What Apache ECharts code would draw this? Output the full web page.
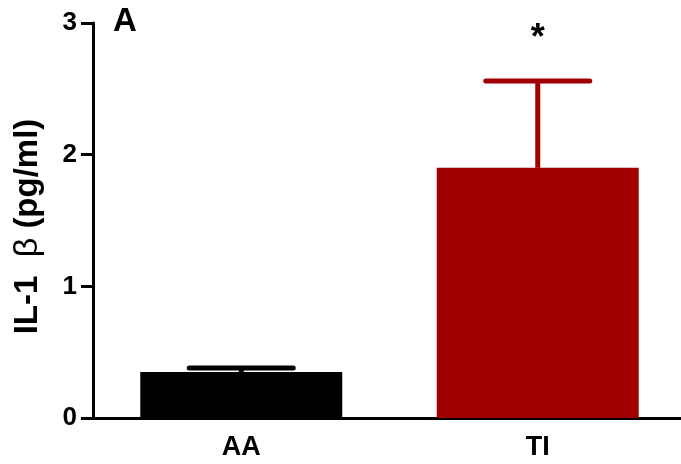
<!DOCTYPE html>
<html>
<head>
<meta charset="utf-8">
<script src="https://cdn.jsdelivr.net/npm/echarts@6/dist/echarts.min.js"></script>
<style>
  html, body { margin: 0; padding: 0; background: #fff; overflow: hidden; }
  #chart { width: 700px; height: 464px; }
</style>
</head>
<body>
<div id="chart"></div>
<script>
// Groups, mean values and upper error (SEM) for IL-1 beta
const categories = ['AA', 'TI'];
const meanValues = [0.35, 1.90];
const errorValues = [0.03, 0.66];
const significance = ['', '*'];
const barColors = ['#000000', '#a00000'];
const yTicks = [0, 1, 2, 3];

const FONT = 'Liberation Sans, Arial, sans-serif';
const chart = echarts.init(document.getElementById('chart'));

const errorData = categories.map((c, i) => [i, meanValues[i], meanValues[i] + errorValues[i], significance[i]]);

chart.setOption({
  animation: false,
  grid: { left: 93, top: 23, width: 593, height: 395, containLabel: false },
  xAxis: {
    type: 'category',
    data: categories,
    axisLine: { show: true, lineStyle: { color: '#000', width: 3 } },
    axisTick: { show: false },
    axisLabel: { color: '#000', fontFamily: FONT, fontWeight: 'bold', fontSize: 27, margin: 16 }
  },
  yAxis: {
    type: 'value',
    min: yTicks[0],
    max: yTicks[yTicks.length - 1],
    interval: 1,
    name: '{b|IL-1}  {g|β} {b|(pg/ml)}',
    nameLocation: 'middle',
    nameGap: 48,
    nameTextStyle: {
      color: '#000', fontFamily: FONT, fontWeight: 'bold', fontSize: 33, padding: [0, 12, 0, 0],
      rich: {
        b: { color: '#000', fontFamily: FONT, fontWeight: 'bold', fontSize: 33 },
        g: { color: '#000', fontFamily: FONT, fontWeight: 'normal', fontSize: 34 }
      }
    },
    axisLine: { show: true, lineStyle: { color: '#000', width: 3 } },
    axisTick: { show: true, length: 12, lineStyle: { color: '#000', width: 3 } },
    splitLine: { show: false },
    axisLabel: { color: '#000', fontFamily: FONT, fontWeight: 'bold', fontSize: 26, margin: 16 }
  },
  graphic: [{
    type: 'text',
    left: 113,
    top: 5,
    style: { text: 'A', fontFamily: FONT, fontWeight: 'bold', fontSize: 33, fill: '#000' }
  }],
  series: [
    {
      type: 'bar',
      data: meanValues.map((v, i) => ({ value: v, itemStyle: { color: barColors[i] } })),
      barWidth: 202,
      z: 2
    },
    {
      type: 'custom',
      data: errorData,
      z: 3,
      renderItem: function (params, api) {
        const i = api.value(0);
        const base = api.coord([i, api.value(1)]);
        const top = api.coord([i, api.value(2)]);
        const color = barColors[i];
        const half = 52;
        const children = [
          { type: 'line', shape: { x1: base[0], y1: base[1], x2: top[0], y2: top[1] },
            style: { stroke: color, lineWidth: 5 } },
          { type: 'line', shape: { x1: top[0] - half, y1: top[1], x2: top[0] + half, y2: top[1] },
            style: { stroke: color, lineWidth: 5, lineCap: 'round' } }
        ];
        const mark = significance[i];
        if (mark) {
          children.push({ type: 'text', x: top[0], y: top[1] - 42,
            style: { text: mark, fontFamily: FONT, fontWeight: 'bold', fontSize: 36, fill: '#000',
              align: 'center', verticalAlign: 'middle' } });
        }
        return { type: 'group', children: children };
      }
    }
  ]
});
</script>
</body>
</html>
